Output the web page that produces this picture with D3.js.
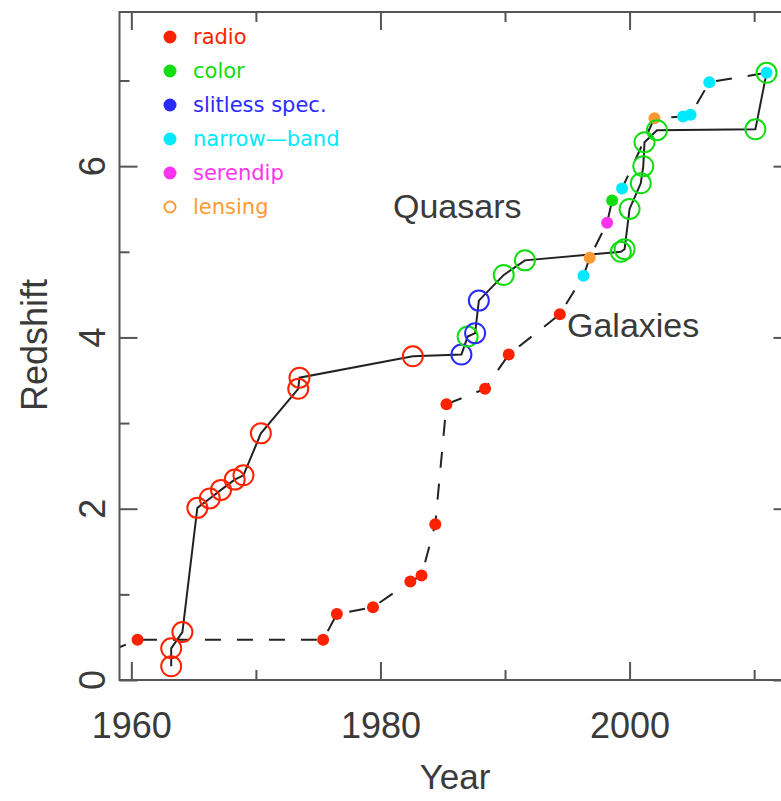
<!DOCTYPE html>
<html>
<head>
<meta charset="utf-8">
<script src="https://cdn.jsdelivr.net/npm/d3@7"></script>
<style>
  body { margin: 0; background: #fff; }
  svg text { font-family: "Liberation Sans", Arial, sans-serif; }
</style>
</head>
<body>
<div id="chart"></div>
<script>
// record redshift vs discovery year
const qsoYear = [1963.2, 1963.2, 1964.1, 1965.3, 1966.3, 1967.2, 1968.3, 1969.0, 1970.4, 1973.4, 1973.5, 1982.6,
                 1986.5, 1987.0, 1987.6, 1987.9, 1989.9, 1991.6, 1999.3, 1999.6, 2000.0, 2000.9, 2001.1, 2001.2,
                 2002.2, 2010.1, 2011.0];
const qsoZ = [0.16, 0.37, 0.56, 2.01, 2.12, 2.22, 2.34, 2.39, 2.88, 3.40, 3.53, 3.78,
              3.80, 4.01, 4.05, 4.43, 4.73, 4.90, 5.00, 5.03, 5.50, 5.80, 6.00, 6.28,
              6.42, 6.43, 7.09];
const qsoMethod = [0, 0, 0, 0, 0, 0, 0, 0, 0, 0, 0, 0,
                   2, 1, 2, 2, 1, 1, 1, 1, 1, 1, 1, 1,
                   1, 1, 1];

const galYear = [1956.0, 1960.5, 1975.4, 1976.5, 1979.4, 1982.4, 1983.3, 1984.4, 1985.3, 1988.4, 1990.3, 1994.4,
                 1996.3, 1996.8, 1998.2, 1998.6, 1999.4, 2002.0, 2004.3, 2004.9, 2006.4, 2011.0];
const galZ = [0.20, 0.47, 0.47, 0.77, 0.85, 1.15, 1.22, 1.82, 3.22, 3.40, 3.80, 4.27,
              4.72, 4.93, 5.34, 5.60, 5.74, 6.56, 6.58, 6.60, 6.98, 7.09];
const galMethod = [0, 0, 0, 0, 0, 0, 0, 0, 0, 0, 0, 0,
                   3, 5, 4, 1, 3, 5, 3, 3, 3, 3];

const methods = ["radio", "color", "slitless spec.", "narrow\u2014band", "serendip", "lensing"];
const methodColor = ["#ff2200", "#11dd11", "#2a2aff", "#00eaff", "#ff33ee", "#ff9933"];

const xMajor = [1960, 1980, 2000];
const xMinor = [1970, 1990, 2010];
const yMajor = [0, 2, 4, 6];
const yMinor = [1, 3, 5, 7];

let width = 781,
    height = 801;
let svg = d3.select("div#chart").append("svg")
            .attr("width", width)
            .attr("height", height);

let pLeft = 119.5, pRight = 791.5, pTop = 12, pBottom = 680;
let x = d3.scaleLinear().domain([1959.05, 2013]).range([pLeft, pRight]);
let y = d3.scaleLinear().domain([0, 7.8]).range([pBottom, pTop]);
let textColor = "#3a3a3a";

svg.append("defs").append("clipPath").attr("id", "plotclip")
  .append("rect")
  .attr("x", pLeft).attr("y", pTop)
  .attr("width", pRight - pLeft).attr("height", pBottom - pTop);

let plot = svg.append("g").attr("clip-path", "url(#plotclip)");

let line = d3.line()
  .x(function(d) { return x(d[0]); })
  .y(function(d) { return y(d[1]); });

let qso = qsoYear.map(function(v, i) { return [v, qsoZ[i], qsoMethod[i]]; });
let gal = galYear.map(function(v, i) { return [v, galZ[i], galMethod[i]]; });

plot.append("path")
  .attr("d", line(qso))
  .attr("fill", "none")
  .attr("stroke", "#222")
  .attr("stroke-width", 2);

plot.append("path")
  .attr("d", line(gal))
  .attr("fill", "none")
  .attr("stroke", "#222")
  .attr("stroke-width", 2)
  .attr("stroke-dasharray", "16,16");

plot.selectAll("circle.gal")
  .data(gal)
  .enter().append("circle")
  .attr("class", "gal")
  .attr("cx", function(d) { return x(d[0]); })
  .attr("cy", function(d) { return y(d[1]); })
  .attr("r", 6)
  .attr("fill", function(d) { return methodColor[d[2]]; });

plot.selectAll("circle.qso")
  .data(qso)
  .enter().append("circle")
  .attr("class", "qso")
  .attr("cx", function(d) { return x(d[0]); })
  .attr("cy", function(d) { return y(d[1]); })
  .attr("r", 10)
  .attr("fill", "none")
  .attr("stroke", function(d) { return methodColor[d[2]]; })
  .attr("stroke-width", 2);

// frame + inward ticks on all sides
let axisColor = "#555";
function tickAxis(axis, tx, ty) {
  let g = svg.append("g").attr("transform", "translate(" + tx + "," + ty + ")").call(axis);
  g.select(".domain").remove();
  g.selectAll("line").attr("stroke", axisColor).attr("stroke-width", 2);
  return g;
}
let xb = tickAxis(d3.axisBottom(x).tickValues(xMajor).tickSize(-18).tickPadding(32).tickFormat(d3.format("d")), 0, pBottom);
xb.selectAll("text").attr("font-size", 36).attr("fill", textColor).attr("font-family", null);
tickAxis(d3.axisBottom(x).tickValues(xMinor).tickSize(-10).tickFormat(""), 0, pBottom);
tickAxis(d3.axisTop(x).tickValues(xMajor).tickSize(-18).tickFormat(""), 0, pTop);
tickAxis(d3.axisTop(x).tickValues(xMinor).tickSize(-10).tickFormat(""), 0, pTop);
tickAxis(d3.axisLeft(y).tickValues(yMajor).tickSize(-18).tickFormat(""), pLeft, 0);
tickAxis(d3.axisLeft(y).tickValues(yMinor).tickSize(-10).tickFormat(""), pLeft, 0);
tickAxis(d3.axisRight(y).tickValues(yMajor).tickSize(-18).tickFormat(""), pRight, 0);
tickAxis(d3.axisRight(y).tickValues(yMinor).tickSize(-10).tickFormat(""), pRight, 0);

svg.append("rect")
  .attr("x", pLeft).attr("y", pTop)
  .attr("width", pRight - pLeft).attr("height", pBottom - pTop)
  .attr("fill", "none")
  .attr("stroke", axisColor)
  .attr("stroke-width", 2);

// y tick labels, rotated along the axis
svg.selectAll("text.ylab")
  .data(yMajor)
  .enter().append("text")
  .attr("class", "ylab")
  .attr("x", 105)
  .attr("y", function(d) { return y(d); })
  .attr("transform", function(d) { return "rotate(-90,105," + y(d) + ")"; })
  .attr("text-anchor", "middle")
  .attr("font-size", 36)
  .attr("fill", textColor)
  .text(function(d) { return d; });

svg.append("text")
  .attr("x", 47).attr("y", 345)
  .attr("transform", "rotate(-90,47,345)")
  .attr("text-anchor", "middle")
  .attr("font-size", 36)
  .attr("fill", textColor)
  .text("Redshift");

svg.append("text")
  .attr("x", 455).attr("y", 789)
  .attr("text-anchor", "middle")
  .attr("font-size", 35)
  .attr("fill", textColor)
  .text("Year");

svg.append("text")
  .attr("x", 393).attr("y", 218)
  .attr("font-size", 34)
  .attr("fill", textColor)
  .text("Quasars");

svg.append("text")
  .attr("x", 567).attr("y", 337)
  .attr("font-size", 34)
  .attr("fill", textColor)
  .text("Galaxies");

// legend
let leg = svg.selectAll("g.leg")
  .data(methods)
  .enter().append("g")
  .attr("class", "leg")
  .attr("transform", function(d, i) { return "translate(170," + (37 + 34 * i) + ")"; });
leg.append("circle")
  .attr("r", function(d, i) { return i === 5 ? 5.5 : 6.5; })
  .attr("fill", function(d, i) { return i === 5 ? "none" : methodColor[i]; })
  .attr("stroke", function(d, i) { return i === 5 ? methodColor[i] : "none"; })
  .attr("stroke-width", 2);
leg.append("text")
  .attr("x", 23).attr("y", 7)
  .style("font-family", "'DejaVu Sans', sans-serif")
  .attr("font-size", 21)
  .attr("fill", function(d, i) { return methodColor[i]; })
  .text(function(d) { return d; });
</script>
</body>
</html>
